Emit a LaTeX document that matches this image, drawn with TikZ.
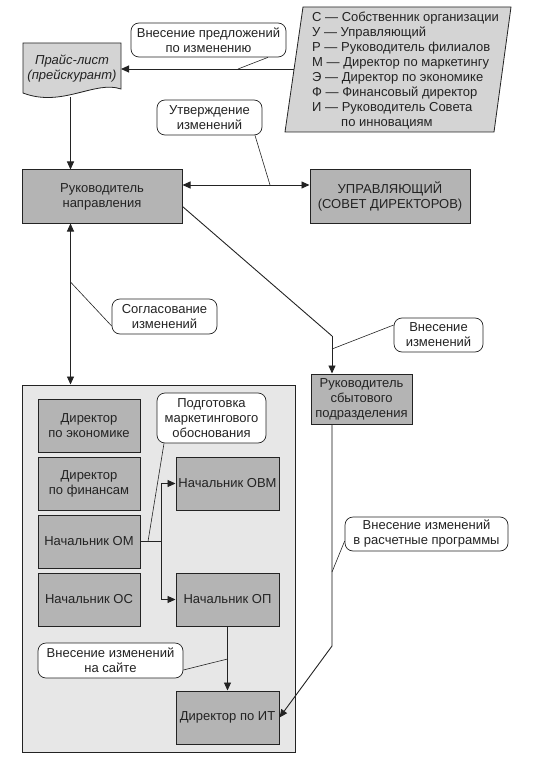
\documentclass[tikz,border=0pt]{standalone}
\usepackage{fontspec}
\setmainfont{Liberation Sans}
\usetikzlibrary{arrows.meta,calc}
\definecolor{boxgray}{RGB}{180,180,180}
\definecolor{biggray}{RGB}{231,231,231}
\definecolor{docgray}{RGB}{212,212,212}
\definecolor{linegray}{RGB}{170,170,170}
\definecolor{ink}{RGB}{35,35,35}
\begin{document}
\begin{tikzpicture}[x=1pt,y=-1pt,
  every node/.style={font=\fontsize{13}{15}\selectfont, text=ink, align=center, inner sep=0pt},
  box/.style={draw=ink, line width=1pt, fill=boxgray, minimum width=102pt, minimum height=53pt},
  call/.style={draw=ink, line width=0.7pt, fill=white, rounded corners=8pt},
  conn/.style={draw=ink, line width=0.9pt},
  tip/.style={-{Triangle[length=8pt,width=7pt]}},
  ptr/.style={draw=ink, line width=0.6pt}]
\useasboundingbox (0,0) rectangle (535,759);
% legend
\path[fill=docgray, draw=ink, line width=0.8pt] (303,7) -- (511,7) -- (494,132) -- (285,132) -- cycle;
\node[anchor=north west, align=left, font=\fontsize{13}{14.9}\selectfont] (legend) at (312,12)
 {С — Собственник организации\\У — Управляющий\\Р — Руководитель филиалов\\М — Директор по маркетингу\\Э — Директор по экономике\\Ф — Финансовый директор\\И — Руководитель Совета\\\hspace*{29pt}по инновациям};
\coordinate (legL) at (294,69);
% price list
\path[fill=docgray, draw=ink, line width=0.8pt] (23,43) -- (121,43) -- (121,89) .. controls (95,80) and (62,108) .. (23,93) -- cycle;
\node[font=\fontsize{13}{15}\itshape] (price) at (72,69) {Прайс-лист\\(прейскурант)};
\coordinate (priceR) at (121,69);
\coordinate (priceB) at (70.5,97);
% main boxes
\node[box, minimum width=160pt, minimum height=53pt] (rn) at (102,196.5) {Руководитель\\направления};
\node[box, minimum width=160pt, minimum height=53pt] (upr) at (390,196.5) {УПРАВЛЯЮЩИЙ\\(СОВЕТ ДИРЕКТОРОВ)};
\node[draw=ink, line width=1pt, fill=biggray, minimum width=273pt, minimum height=367pt] (big) at (158.5,568.5) {};
\node[box, minimum width=101pt, minimum height=50pt] (sbyt) at (361.5,399) {Руководитель\\сбытового\\подразделения};
\node[box] (dek) at (89,425.5) {Директор\\по экономике};
\node[box] (dfin) at (89,483.5) {Директор\\по финансам};
\node[box] (om) at (89,541.5) {Начальник ОМ};
\node[box] (os) at (89,599.5) {Начальник ОС};
\node[box, minimum width=103pt] (ovm) at (227.5,483.5) {Начальник ОВМ};
\node[box, minimum width=103pt] (op) at (227.5,599.5) {Начальник ОП};
\node[box, minimum width=103pt] (it) at (227.5,717.5) {Директор по ИТ};
% callouts
\node[call, minimum width=155pt, minimum height=34pt] (c1) at (208.5,40) {Внесение предложений\\по изменению};
\node[call, minimum width=105pt, minimum height=35pt] (c2) at (209.5,117.5) {Утверждение\\изменений};
\node[call, minimum width=105pt, minimum height=35pt] (c3) at (164.5,316.5) {Согласование\\изменений};
\node[call, minimum width=89pt, minimum height=34pt] (c4) at (438.5,335) {Внесение\\изменений};
\node[call, minimum width=109pt, minimum height=50pt] (c5) at (211.5,418) {Подготовка\\маркетингового\\обоснования};
\node[call, minimum width=163pt, minimum height=34pt] (c6) at (426.5,534) {Внесение изменений\\в расчетные программы};
\node[call, minimum width=145pt, minimum height=35pt] (c7) at (110.5,660.5) {Внесение изменений\\на сайте};
% connectors
\draw[conn, tip] (legL) -- (priceR);
\draw[conn, tip] (priceB) -- (rn.north -| priceB);
\draw[conn, {Triangle[length=8pt,width=7pt]}-{Triangle[length=8pt,width=7pt]}] (rn.east |- 0,185) -- (upr.west |- 0,185);
\draw[conn, {Triangle[length=8pt,width=7pt]}-{Triangle[length=8pt,width=7pt]}] (rn.south -| 70.5,0) -- (big.north -| 70.5,0);
\coordinate (bend1) at (332,336);
\draw[conn] (rn.east |- 0,206.5) -- (bend1);
\draw[conn, tip] (bend1) -- (sbyt.north -| bend1);
\coordinate (bend2) at (332,646);
\draw[draw=linegray, line width=1.2pt] (sbyt.south -| bend2) -- (bend2);
\draw[conn, tip] (bend2) -- (it.east);
\coordinate (omx) at (161,541.5);
\draw[conn] (om.east) -- (omx);
\draw[conn, tip] (omx) |- (ovm.west);
\draw[conn, tip] (omx) |- (op.west);
\draw[conn, tip] (op.south) -- (it.north);
% callout pointers
\draw[ptr] (c1.south -| 268,0) -- (238,69);
\draw[ptr] (c2.south -| 255,0) -- (270,185);
\draw[ptr] (c3.west |- 0,326) -- (70.5,282);
\draw[ptr] (c4.west |- 0,325) -- (332,349);
\draw[ptr] (c5.south -| 164,0) -- (148,541.5);
\draw[ptr] (c6.west |- 0,541) -- (332,572);
\draw[ptr] (c7.east |- 0,670) -- (227.5,659);
\end{tikzpicture}
\end{document}
